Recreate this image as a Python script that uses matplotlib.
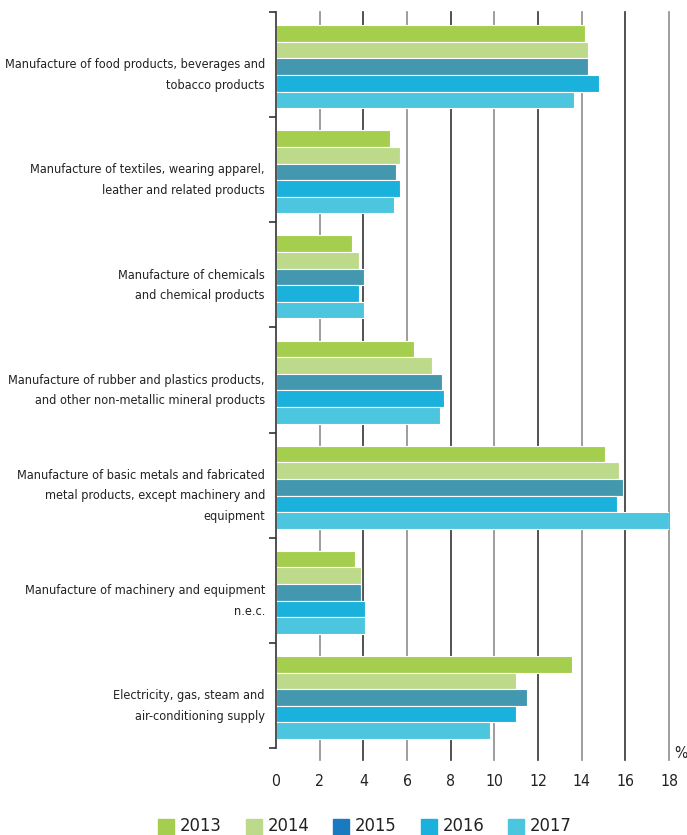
import numpy as np
import matplotlib.pyplot as plt
from matplotlib import font_manager
from matplotlib.patches import Rectangle
import matplotlib.transforms as mtransforms

# dane (%)
categories = [
    'Manufacture of food products, beverages and\ntobacco products',
    'Manufacture of textiles, wearing apparel,\nleather and related products',
    'Manufacture of chemicals\nand chemical products',
    'Manufacture of rubber and plastics products,\nand other non-metallic mineral products',
    'Manufacture of basic metals and fabricated\nmetal products, except machinery and\nequipment',
    'Manufacture of machinery and equipment\nn.e.c.',
    'Electricity, gas, steam and\nair-conditioning supply',
]
years = ['2013', '2014', '2015', '2016', '2017']
v2013 = [14.15, 5.2, 3.5, 6.3, 15.05, 3.6, 13.55]
v2014 = [14.3, 5.7, 3.8, 7.15, 15.7, 3.9, 11.0]
v2015 = [14.3, 5.5, 4.05, 7.6, 15.9, 3.9, 11.5]
v2016 = [14.8, 5.7, 3.8, 7.7, 15.63, 4.08, 11.0]
v2017 = [13.67, 5.4, 4.05, 7.5, 17.98, 4.08, 9.8]
values = [v2013, v2014, v2015, v2016, v2017]
xticks = [0, 2, 4, 6, 8, 10, 12, 14, 16, 18]

bar_colors = ['#a6ce4e', '#bcda8a', '#4398b0', '#1ab1dc', '#4cc5df']
legend_colors = ['#a6ce4e', '#bcda8a', '#1a7abf', '#1ab1dc', '#4cc5df']

# szukamy waskiej czcionki (oryginal to Myriad Condensed)
narrow = None
for f in font_manager.fontManager.ttflist:
    if ('Narrow' in f.fname or 'Condensed' in f.fname) and 'Bold' not in f.fname \
            and 'Oblique' not in f.fname and 'Italic' not in f.fname:
        narrow = f.fname
        break
if narrow:
    fp = font_manager.FontProperties(fname=narrow)
else:
    fp = font_manager.FontProperties(family='DejaVu Sans')

fig = plt.figure(figsize=(6.87, 8.35), dpi=100)
ax = fig.add_axes([276 / 687, 1 - 748 / 835, (669 - 276) / 687, (748 - 12) / 835])

# dopasowanie rozmiaru czcionki do szerokosci tekstu w oryginale
renderer = fig.canvas.get_renderer()
probe = fig.text(0, 0, 'Manufacture of food products, beverages and', fontproperties=fp, fontsize=12)
w = probe.get_window_extent(renderer).width
probe.remove()
fs = 12 * 260 / w
fs = min(fs, 12.5)

# pionowe linie siatki, na przemian szare i ciemne
for i, x in enumerate(xticks[1:]):
    c = '#8c8c8c' if i % 2 == 0 else '#333333'
    ax.axvline(x, ymin=-0.016, ymax=1, color=c, lw=1.2, clip_on=False, zorder=0)

pos = np.arange(len(categories))
h = 0.158
for k in range(len(years)):
    ax.barh(pos + (k - 2) * h + 0.02, values[k], height=h, color=bar_colors[k],
            edgecolor='white', linewidth=0.8, zorder=2)

ax.set_xlim(0, 18)
ax.set_ylim(len(categories) - 0.5, -0.5)
ax.set_xticks(xticks)
ax.set_xticklabels([str(x) for x in xticks])
for t in ax.get_xticklabels():
    t.set_fontproperties(fp)
    t.set_fontsize(fs * 1.25)
    t.set_color('#222222')
ax.tick_params(axis='x', length=0, pad=19)
ax.set_yticks(np.arange(-0.5, len(categories)))
ax.set_yticklabels([])
ax.tick_params(axis='y', length=5, width=1.2, color='#333333', direction='out')

for s in ['top', 'right', 'bottom']:
    ax.spines[s].set_visible(False)
ax.spines['left'].set_color('#333333')
ax.spines['left'].set_linewidth(1.2)

trans = mtransforms.blended_transform_factory(ax.transAxes, ax.transData)
for i, lab in enumerate(categories):
    ax.text(-0.028, i + 0.1, lab, transform=trans, ha='right', va='center',
            fontproperties=fp, fontsize=fs, color='#222222', linespacing=1.75)

ax.text(18.25, len(categories) - 0.45, '%', ha='left', va='center',
        fontproperties=fp, fontsize=fs * 1.25, color='#222222')

# legenda rysowana recznie, z kolorami jak w oryginale
for k, yr in enumerate(years):
    x0 = (158 + k * 87.5) / 687
    fig.patches.append(Rectangle((x0, 1 - 835 / 835), 16 / 687, 16 / 835,
                                 transform=fig.transFigure, color=legend_colors[k]))
    fig.text(x0 + 22 / 687, 0.0, yr, ha='left', va='bottom', fontproperties=fp,
             fontsize=fs * 1.45, color='#222222')

fig.savefig('out.png', dpi=100)
